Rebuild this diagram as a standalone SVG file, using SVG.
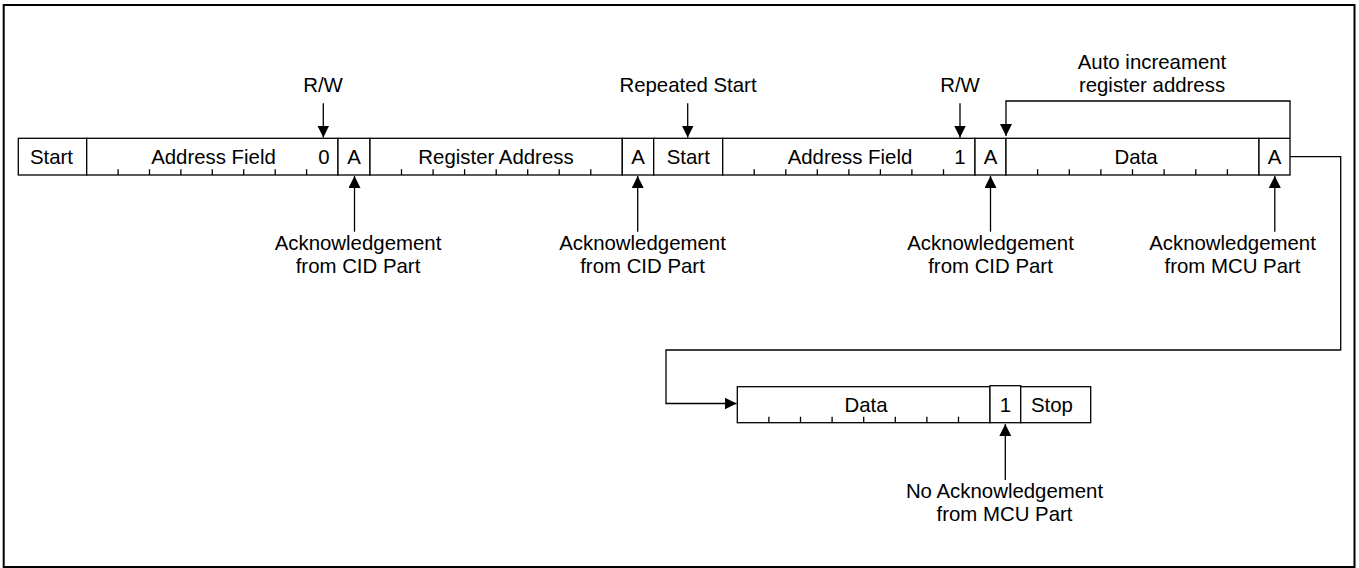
<svg xmlns="http://www.w3.org/2000/svg" width="1359" height="568" viewBox="0 0 1359 568">
<style>
  .cell { fill: #ffffff; stroke: #000000; stroke-width: 1.3; }
  .tick { fill: none; stroke: #000000; stroke-width: 1.3; }
  .t { font-family: "Liberation Sans", Arial, sans-serif; font-size: 20.4px; fill: #000000; text-anchor: middle; }
  .conn { fill: none; stroke: #000000; stroke-width: 1.3; }
  .arr { fill: none; stroke: #000000; stroke-width: 1.3; marker-end: url(#ah); }
</style>
<defs>
  <marker id="ah" viewBox="0 0 12 12" refX="12" refY="6" markerWidth="12" markerHeight="12" markerUnits="userSpaceOnUse" orient="auto">
    <path d="M0,0 L12,6 L0,12 z" fill="#000000"/>
  </marker>
</defs>
<rect x="3.7" y="5" width="1350.8" height="562" fill="#ffffff" stroke="#000000" stroke-width="2"/>

<g id="start1">
  <rect class="cell" x="18.3" y="138.3" width="68.4" height="36.7"/>
  <text class="t" x="51.5" y="163.5">Start</text>
</g>
<g id="addr1">
  <rect class="cell" x="86.7" y="138.3" width="251.3" height="36.7"/>
  <path class="tick" d="M118.1,169.3V175M149.5,169.3V175M180.9,169.3V175M212.3,169.3V175M243.7,169.3V175M275.2,169.3V175M306.6,169.3V175"/>
  <text class="t" x="213.5" y="163.5">Address Field</text>
  <text class="t" x="324" y="163.5">0</text>
</g>
<g id="ack1">
  <rect class="cell" x="338" y="138.3" width="32" height="36.7"/>
  <text class="t" x="354" y="163.5">A</text>
</g>
<g id="reg">
  <rect class="cell" x="370" y="138.3" width="252.3" height="36.7"/>
  <path class="tick" d="M401.5,169.3V175M433.1,169.3V175M464.6,169.3V175M496.2,169.3V175M527.7,169.3V175M559.2,169.3V175M590.8,169.3V175"/>
  <text class="t" x="496" y="163.5">Register Address</text>
</g>
<g id="ack2">
  <rect class="cell" x="622.3" y="138.3" width="31.4" height="36.7"/>
  <text class="t" x="638" y="163.5">A</text>
</g>
<g id="start2">
  <rect class="cell" x="653.7" y="138.3" width="69" height="36.7"/>
  <text class="t" x="688.3" y="163.5">Start</text>
</g>
<g id="addr2">
  <rect class="cell" x="722.7" y="138.3" width="252.3" height="36.7"/>
  <path class="tick" d="M754.2,169.3V175M785.8,169.3V175M817.3,169.3V175M848.9,169.3V175M880.4,169.3V175M911.9,169.3V175M943.5,169.3V175"/>
  <text class="t" x="850" y="163.5">Address Field</text>
  <text class="t" x="960" y="163.5">1</text>
</g>
<g id="ack3">
  <rect class="cell" x="975" y="138.3" width="31" height="36.7"/>
  <text class="t" x="990.5" y="163.5">A</text>
</g>
<g id="data1">
  <rect class="cell" x="1006" y="138.3" width="253" height="36.7"/>
  <path class="tick" d="M1037.6,169.3V175M1069.3,169.3V175M1100.9,169.3V175M1132.5,169.3V175M1164.1,169.3V175M1195.8,169.3V175M1227.4,169.3V175"/>
  <text class="t" x="1136" y="163.5">Data</text>
</g>
<g id="ack4">
  <rect class="cell" x="1259" y="138.3" width="31" height="36.7"/>
  <text class="t" x="1274.5" y="163.5">A</text>
</g>

<g id="data2">
  <rect class="cell" x="737.3" y="386.7" width="252.7" height="36"/>
  <path class="tick" d="M768.9,416.7V422.7M800.5,416.7V422.7M832.1,416.7V422.7M863.7,416.7V422.7M895.3,416.7V422.7M926.9,416.7V422.7M958.5,416.7V422.7"/>
  <text class="t" x="866" y="411.5">Data</text>
</g>
<g id="nack">
  <rect class="cell" x="990" y="385.7" width="30.7" height="37"/>
  <text class="t" x="1005.3" y="411.5">1</text>
</g>
<g id="stop">
  <rect class="cell" x="1020.7" y="386.7" width="70" height="36"/>
  <text class="t" x="1052" y="411.5">Stop</text>
</g>

<g id="labels">
  <text class="t" x="323" y="91.7">R/W</text>
  <text class="t" x="688" y="91.7">Repeated Start</text>
  <text class="t" x="960" y="91.7">R/W</text>
  <text class="t" x="1152" y="68.5">Auto increament</text>
  <text class="t" x="1152" y="91.7">register address</text>
  <text class="t" x="358" y="250">Acknowledgement</text>
  <text class="t" x="358" y="273">from CID Part</text>
  <text class="t" x="642.5" y="250">Acknowledgement</text>
  <text class="t" x="642.5" y="273">from CID Part</text>
  <text class="t" x="990.5" y="250">Acknowledgement</text>
  <text class="t" x="990.5" y="273">from CID Part</text>
  <text class="t" x="1232.5" y="250">Acknowledgement</text>
  <text class="t" x="1232.5" y="273">from MCU Part</text>
  <text class="t" x="1004.5" y="498.3">No Acknowledgement</text>
  <text class="t" x="1004.5" y="521.3">from MCU Part</text>
</g>

<g id="connectors">
  <path class="arr" d="M323.3,103.3V137.5"/>
  <path class="arr" d="M687.7,103.3V137.5"/>
  <path class="arr" d="M960,103.3V137.5"/>
  <path class="arr" d="M354.5,231.7V176"/>
  <path class="arr" d="M637.7,231.7V176"/>
  <path class="arr" d="M990.5,231.7V176"/>
  <path class="arr" d="M1274.8,231.7V176"/>
  <path class="arr" d="M1005.3,480V424"/>
  <path class="arr" d="M1290,138.3V101H1006V136"/>
  <path class="arr" d="M1290,156.7H1340.7V350H666V403.5H736.5"/>
</g>
</svg>
